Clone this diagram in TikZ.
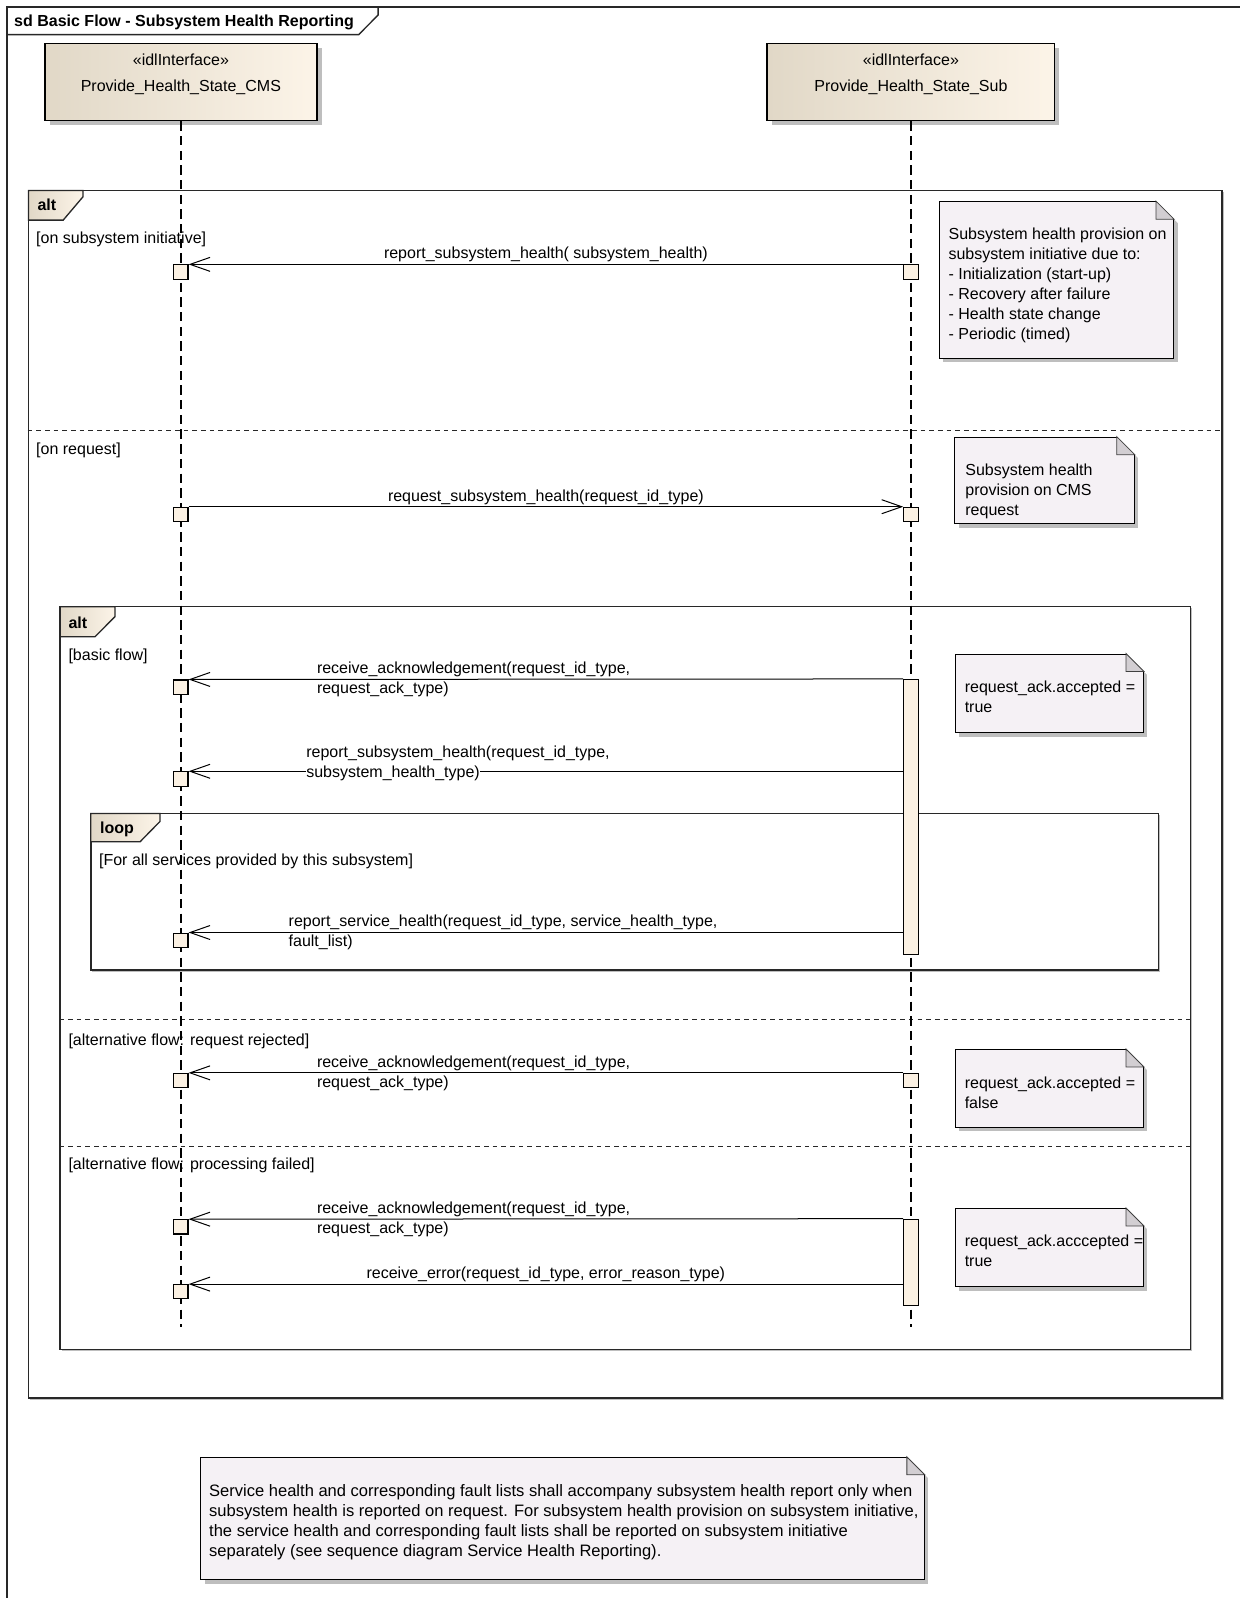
\documentclass[tikz,border=0pt]{standalone}
\usepackage{fontspec}
\setmainfont{Liberation Sans}
\usetikzlibrary{arrows.meta,positioning,fit,shadows,calc}
\definecolor{HeadTan}{RGB}{225,216,199}
\definecolor{HeadCream}{RGB}{252,244,232}
\definecolor{ExecCream}{RGB}{251,241,227}
\definecolor{NoteLilac}{RGB}{245,241,245}
\definecolor{FoldGray}{RGB}{210,206,210}
\definecolor{ShadeGray}{RGB}{190,190,190}
\definecolor{FrameInk}{RGB}{40,40,40}
\tikzset{
    txt/.style={inner sep=0pt, align=left},
    kw/.style={inner sep=0pt, font=\fontsize{12}{15}\selectfont\bfseries},
    head/.style={draw, line width=1pt, left color=HeadTan, right color=HeadCream, inner sep=0pt, drop shadow={shadow xshift=3.5pt, shadow yshift=-3.5pt, fill=ShadeGray, opacity=1}},
    lifeline/.style={line width=1pt, dash pattern=on 7pt off 4pt},
    fragment/.style={draw=FrameInk, line width=1.2pt, fill=white, inner sep=0pt, drop shadow={shadow xshift=1.2pt, shadow yshift=-1.2pt, fill=ShadeGray, opacity=1}},
    fragtab/.style={draw=FrameInk, line width=1pt, left color=HeadTan, right color=HeadCream},
    separator/.style={draw=FrameInk, line width=0.8pt, dash pattern=on 3.5pt off 3pt},
    execsq/.style={draw, line width=0.8pt, fill=ExecCream, minimum size=10.7pt, inner sep=0pt, anchor=north},
    execbar/.style={draw, line width=0.8pt, fill=ExecCream, inner sep=0pt},
    msg/.style={line width=0.75pt, -{Straight Barb[length=15pt, width=10.5pt, line width=0.75pt]}},
    msglbl/.style={anchor=base, yshift=4.2pt, inner sep=0pt},
    note/.style={draw, line width=0.8pt, fill=NoteLilac, inner sep=0pt, drop shadow={shadow xshift=3pt, shadow yshift=-3pt, fill=ShadeGray, opacity=1}},
    fold/.style={fill=FoldGray, draw=black!75, line width=0.6pt},
}
% folded corner of a note node
\newcommand{\dogear}[1]{%
  \fill[white] ([xshift=-17.5pt,yshift=4pt]#1.north east) -- ([xshift=4pt,yshift=4pt]#1.north east) -- ([xshift=4pt,yshift=-17.5pt]#1.north east) -- cycle;
  \filldraw[fold] ([xshift=-13.5pt]#1.north east) -- ([xshift=-13.5pt,yshift=-13.5pt]#1.north east) -- ([yshift=-13.5pt]#1.north east) -- cycle;
}
\setlength{\fboxsep}{0pt}

\begin{document}
\begin{tikzpicture}[x=0.7642pt, y=-0.7642pt, font=\fontsize{12}{15}\selectfont]
\useasboundingbox (0,0) rectangle (1216,1568);

% diagram frame
\draw[line width=1pt, draw=FrameInk] (1230,7) -- (7,7) -- (7,1580);
\draw[line width=1pt, draw=FrameInk] (7,34) -- (352,34) -- (371,14.7) -- (371,7);
\node[kw, anchor=base west] (title) at (13.7,26.2) {sd Basic Flow - Subsystem Health Reporting};

% lifeline heads
\node[head, fit={(44,43) (311,118.5)}] (cms) {};
\node[txt, anchor=base] (cms-st) at (177.5,63.8) {«idlInterface»};
\node[txt, anchor=base] (cms-name) at (177.5,90) {Provide\_Health\_State\_CMS};
\node[head, fit={(752.6,43) (1035,118.5)}] (sub) {};
\node[txt, anchor=base] (sub-st) at (893.8,63.8) {«idlInterface»};
\node[txt, anchor=base] (sub-name) at (893.8,90) {Provide\_Health\_State\_Sub};

% combined fragments
\node[fragment, fit={(28,187) (1199,1372)}] (alt-outer) {};
\path[fragtab] (28,187) -- (81.5,187) -- (81.5,193) -- (62,216) -- (28,216) -- cycle;
\node[kw, anchor=base west] (alt-outer-kw) at (36.6,206.7) {alt};
\node[txt, anchor=base west] (g-init) at (35.3,238.5) {[on subsystem initiative]};
\coordinate (sep-req) at (0,422);
\draw[separator] (alt-outer.west |- sep-req) -- (alt-outer.east |- sep-req);
\node[txt, anchor=base west] (g-req) at (35.3,446) {[on request]};

\node[fragment, fit={(59,595.3) (1168,1324)}] (alt-inner) {};
\path[fragtab] (59,595.3) -- (112.9,595.3) -- (112.9,605) -- (93.2,624.8) -- (59,624.8) -- cycle;
\node[kw, anchor=base west] (alt-inner-kw) at (67,616.4) {alt};
\node[txt, anchor=base west] (g-basic) at (67,647.7) {[basic flow]};
\coordinate (sep-rej) at (0,1000);
\draw[separator] (alt-inner.west |- sep-rej) -- (alt-inner.east |- sep-rej);
\node[txt, anchor=base west] (g-rej) at (67,1026) {[alternative flow: request rejected]};
\coordinate (sep-fail) at (0,1125);
\draw[separator] (alt-inner.west |- sep-fail) -- (alt-inner.east |- sep-fail);
\node[txt, anchor=base west] (g-fail) at (67,1148) {[alternative flow: processing failed]};

\node[fragment, fit={(89,798.2) (1136.7,952)}] (loop) {};
\path[fragtab] (89,798.2) -- (157,798.2) -- (157,806) -- (137.4,826) -- (89,826) -- cycle;
\node[kw, anchor=base west] (loop-kw) at (98,817.8) {loop};
\node[txt, anchor=base west] (g-loop) at (97,849) {[For all services provided by this subsystem]};

% lifelines
\coordinate (cms-end) at (177.5,1302);
\coordinate (sub-end) at (893.8,1302);
\draw[lifeline] (cms.south) -- (cms-end);
\draw[lifeline] (sub.south) -- (sub-end);

% execution occurrences
\node[execbar, fit={(886.7,666.7) (900.9,937)}] (bar-basic) {};
\node[execbar, fit={(886.7,1196.3) (900.9,1281.3)}] (bar-fail) {};
\node[execsq] (rep-cms) at (177.5,259.4) {};
\node[execsq] (rep-sub) at (893.8,259.4) {};
\node[execsq] (req-cms) at (177.5,497.2) {};
\node[execsq] (req-sub) at (893.8,497.2) {};
\node[execsq] (ack1-cms) at (177.5,666.7) {};
\node[execsq] (rsh-cms) at (177.5,756.8) {};
\node[execsq] (svc-cms) at (177.5,915) {};
\node[execsq] (ack2-cms) at (177.5,1052.7) {};
\node[execsq] (ack2-sub) at (893.8,1052.7) {};
\node[execsq] (ack3-cms) at (177.5,1196.3) {};
\node[execsq] (err-cms) at (177.5,1260) {};

% messages (multi-line labels are placed by their last baseline)
\draw[msg] (rep-sub.north west) -- node[msglbl] (rep-lbl) {report\_subsystem\_health( subsystem\_health)} (rep-cms.north east);
\draw[msg] (req-cms.north east) -- node[msglbl] (req-lbl) {request\_subsystem\_health(request\_id\_type)} (req-sub.north west);
\draw[msg] (bar-basic.north west) -- (ack1-cms.north east);
\node[txt, anchor=base west] (ack1-lbl) at (310.8,680.8) {receive\_acknowledgement(request\_id\_type,\\request\_ack\_type)};
\draw[msg] (bar-basic.west |- rsh-cms.north) -- (rsh-cms.north east);
\node[txt, anchor=base west] (rsh-lbl) at (300.3,763.1) {report\_subsystem\_health(request\_id\_type,\\\colorbox{white}{subsystem\_health\_type)}};
\draw[msg] (bar-basic.west |- svc-cms.north) -- (svc-cms.north east);
\node[txt, anchor=base west] (svc-lbl) at (283,929) {report\_service\_health(request\_id\_type, service\_health\_type,\\fault\_list)};
\draw[msg] (ack2-sub.north west) -- (ack2-cms.north east);
\node[txt, anchor=base west] (ack2-lbl) at (310.8,1066.8) {receive\_acknowledgement(request\_id\_type,\\request\_ack\_type)};
\draw[msg] (bar-fail.north west) -- (ack3-cms.north east);
\node[txt, anchor=base west] (ack3-lbl) at (310.8,1210.3) {receive\_acknowledgement(request\_id\_type,\\request\_ack\_type)};
\draw[msg] (bar-fail.west |- err-cms.north) -- node[msglbl] (err-lbl) {receive\_error(request\_id\_type, error\_reason\_type)} (err-cms.north east);

% notes
\node[note, fit={(921.5,197.9) (1151.5,351.6)}] (note-init) {};
\dogear{note-init}
\node[txt, anchor=base west] (note-init-text) at (930.5,333.6) {Subsystem health provision on\\subsystem initiative due to:\\- Initialization (start-up)\\- Recovery after failure\\- Health state change\\- Periodic (timed)};

\node[note, fit={(937,429) (1113,514)}] (note-req) {};
\dogear{note-req}
\node[txt, anchor=base west] (note-req-text) at (947,506.3) {Subsystem health\\provision on CMS\\request};

\node[note, fit={(937.2,641.8) (1122,719)}] (note-acc) {};
\dogear{note-acc}
\node[txt, anchor=base west] (note-acc-text) at (946.4,699.4) {request\_ack.accepted =\\true};

\node[note, fit={(937.2,1029.8) (1122,1106.3)}] (note-rej) {};
\dogear{note-rej}
\node[txt, anchor=base west] (note-rej-text) at (946.4,1087.6) {request\_ack.accepted =\\false};

\node[note, fit={(937.2,1185.8) (1122,1262.7)}] (note-fail) {};
\dogear{note-fail}
\node[txt, anchor=base west] (note-fail-text) at (946.4,1243.1) {request\_ack.acccepted =\\true};

\node[note, fit={(197,1430) (907,1550)}] (note-svc) {};
\dogear{note-svc}
\node[txt, anchor=base west, font=\fontsize{12.4}{15}\selectfont] (note-svc-text) at (205,1526.9) {Service health and corresponding fault lists shall accompany subsystem health report only when\\subsystem health is reported on request. For subsystem health provision on subsystem initiative,\\the service health and corresponding fault lists shall be reported on subsystem initiative\\separately (see sequence diagram Service Health Reporting).};
\end{tikzpicture}
\end{document}
